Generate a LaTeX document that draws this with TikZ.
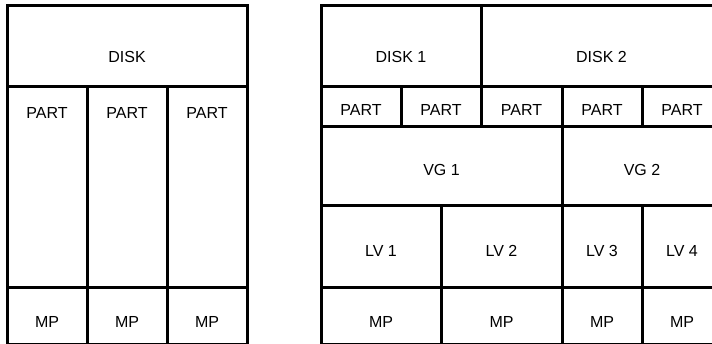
\documentclass[tikz,border=0pt]{standalone}
\usepackage{fontspec}
\setmainfont{Liberation Sans}
\newcommand\mycell[7]{%
  \draw[cellline] (#2,#3) rectangle (#4,#5);
  \node[lbl] (#1) at ({(#2+#4)/2},#6) {#7};}
\begin{document}
\begin{tikzpicture}[x=1pt,y=-1pt,
  cellline/.style={line width=3pt, black},
  lbl/.style={anchor=base, inner sep=0pt, font=\fontsize{16}{19}\selectfont}]
\useasboundingbox (0,0) rectangle (712,344);
\fill[white] (0,0) rectangle (712,344);
% left stack
\mycell{ldisk}{7}{6}{247}{87}{63}{DISK}
\mycell{lpa}{7}{87}{87}{288}{119}{PART}
\mycell{lpb}{87}{87}{167}{288}{119}{PART}
\mycell{lpc}{167}{87}{247}{288}{119}{PART}
\mycell{lma}{7}{288}{87}{345}{328}{MP}
\mycell{lmb}{87}{288}{167}{345}{328}{MP}
\mycell{lmc}{167}{288}{247}{345}{328}{MP}
% right stack
\mycell{rd1}{321}{6}{481}{87}{63}{DISK 1}
\mycell{rd2}{481}{6}{722}{87}{63}{DISK 2}
\mycell{rpa}{321}{87}{401}{127}{116}{PART}
\mycell{rpb}{401}{87}{481}{127}{116}{PART}
\mycell{rpc}{481}{87}{562}{127}{116}{PART}
\mycell{rpd}{562}{87}{642}{127}{116}{PART}
\mycell{rpe}{642}{87}{722}{127}{116}{PART}
\mycell{vg1}{321}{127}{562}{206}{176}{VG 1}
\mycell{vg2}{562}{127}{722}{206}{176}{VG 2}
\mycell{lv1}{321}{206}{441}{288}{257}{LV 1}
\mycell{lv2}{441}{206}{562}{288}{257}{LV 2}
\mycell{lv3}{562}{206}{642}{288}{257}{LV 3}
\mycell{lv4}{642}{206}{722}{288}{257}{LV 4}
\mycell{rma}{321}{288}{441}{345}{328}{MP}
\mycell{rmb}{441}{288}{562}{345}{328}{MP}
\mycell{rmc}{562}{288}{642}{345}{328}{MP}
\mycell{rmd}{642}{288}{722}{345}{328}{MP}
\end{tikzpicture}
\end{document}
